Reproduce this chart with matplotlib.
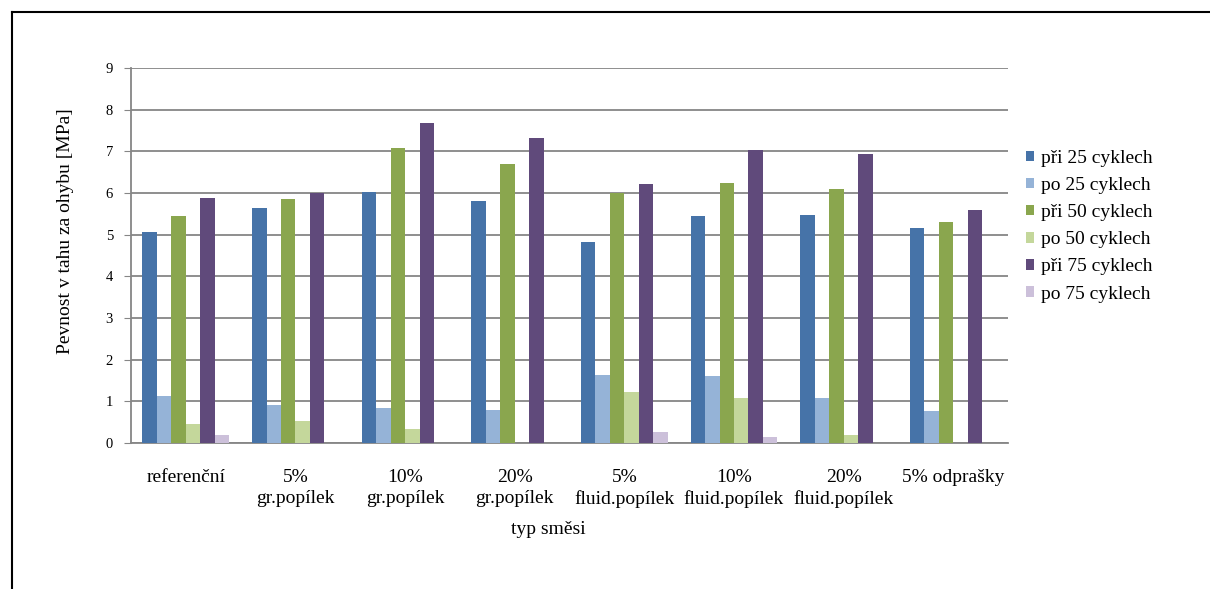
import numpy as np
import matplotlib.pyplot as plt
from matplotlib.lines import Line2D

plt.rcParams['font.family'] = ['Liberation Serif', 'DejaVu Serif']

# mixtures on the x axis
categories = ['referenční', '5%\ngr.popílek', '10%\ngr.popílek', '20%\ngr.popílek',
              '5%\nfluid.popílek', '10%\nfluid.popílek', '20%\nfluid.popílek', '5% odprašky']

series_names = ['při 25 cyklech', 'po 25 cyklech', 'při 50 cyklech',
                'po 50 cyklech', 'při 75 cyklech', 'po 75 cyklech']

# flexural strength [MPa]
pri25 = [5.07, 5.63, 6.03, 5.80, 4.83, 5.44, 5.46, 5.15]
po25 = [1.12, 0.92, 0.85, 0.79, 1.64, 1.61, 1.08, 0.76]
pri50 = [5.45, 5.85, 7.08, 6.69, 5.99, 6.24, 6.09, 5.31]
po50 = [0.46, 0.52, 0.34, 0.0, 1.22, 1.08, 0.19, 0.0]
pri75 = [5.87, 6.01, 7.67, 7.31, 6.22, 7.02, 6.93, 5.60]
po75 = [0.19, 0.0, 0.0, 0.0, 0.26, 0.15, 0.0, 0.0]

colors = ['#4673A8', '#95B3D7', '#8AA64E', '#C4D79B', '#604A7B', '#CCC0DA']

fig = plt.figure(figsize=(12.1, 5.89), dpi=100)
ax = fig.add_axes([0.1083, 0.2479, 0.7248, 0.6367])

x = np.arange(len(categories))
w = 0.132
data = [pri25, po25, pri50, po50, pri75, po75]
for i, (vals, c, name) in enumerate(zip(data, colors, series_names)):
    ax.bar(x + (i - 2.5) * w, vals, w, color=c, label=name, zorder=3)

ax.set_xlim(-0.5, len(categories) - 0.5)
ax.set_ylim(0, 9)
ax.set_yticks(range(10))
ax.yaxis.grid(True, color='#868686', linewidth=1.3, zorder=0)
for s in ['top', 'right']:
    ax.spines[s].set_visible(False)
for s in ['left', 'bottom']:
    ax.spines[s].set_color('#868686')
    ax.spines[s].set_linewidth(1.3)
ax.tick_params(axis='y', length=5, color='#868686', labelsize=10.5, pad=8)
ax.tick_params(axis='x', length=0, labelsize=14, pad=19)
ax.set_xticks(x)
ax.set_xticklabels(categories, linespacing=1.3)

fig.text(65 / 1210, 1 - 231 / 589, 'Pevnost v tahu za ohybu [MPa]', rotation=90,
         ha='center', va='center', fontsize=14)
fig.text(548 / 1210, 1 - 530 / 589, 'typ směsi', ha='center', va='center', fontsize=14)

ax.legend(loc='center left', bbox_to_anchor=(1.0, 0.578), frameon=False, fontsize=14,
          handlelength=0.45, handleheight=0.45, handletextpad=0.35, labelspacing=0.52)

# outer frame of the chart area
fig.add_artist(Line2D([12 / 1210, 1.0], [1 - 12 / 589, 1 - 12 / 589], color='black', linewidth=1.5,
                      transform=fig.transFigure))
fig.add_artist(Line2D([12 / 1210, 12 / 1210], [0.0, 1 - 12 / 589], color='black', linewidth=1.5,
                      transform=fig.transFigure))

fig.savefig('out.png', dpi=100)
